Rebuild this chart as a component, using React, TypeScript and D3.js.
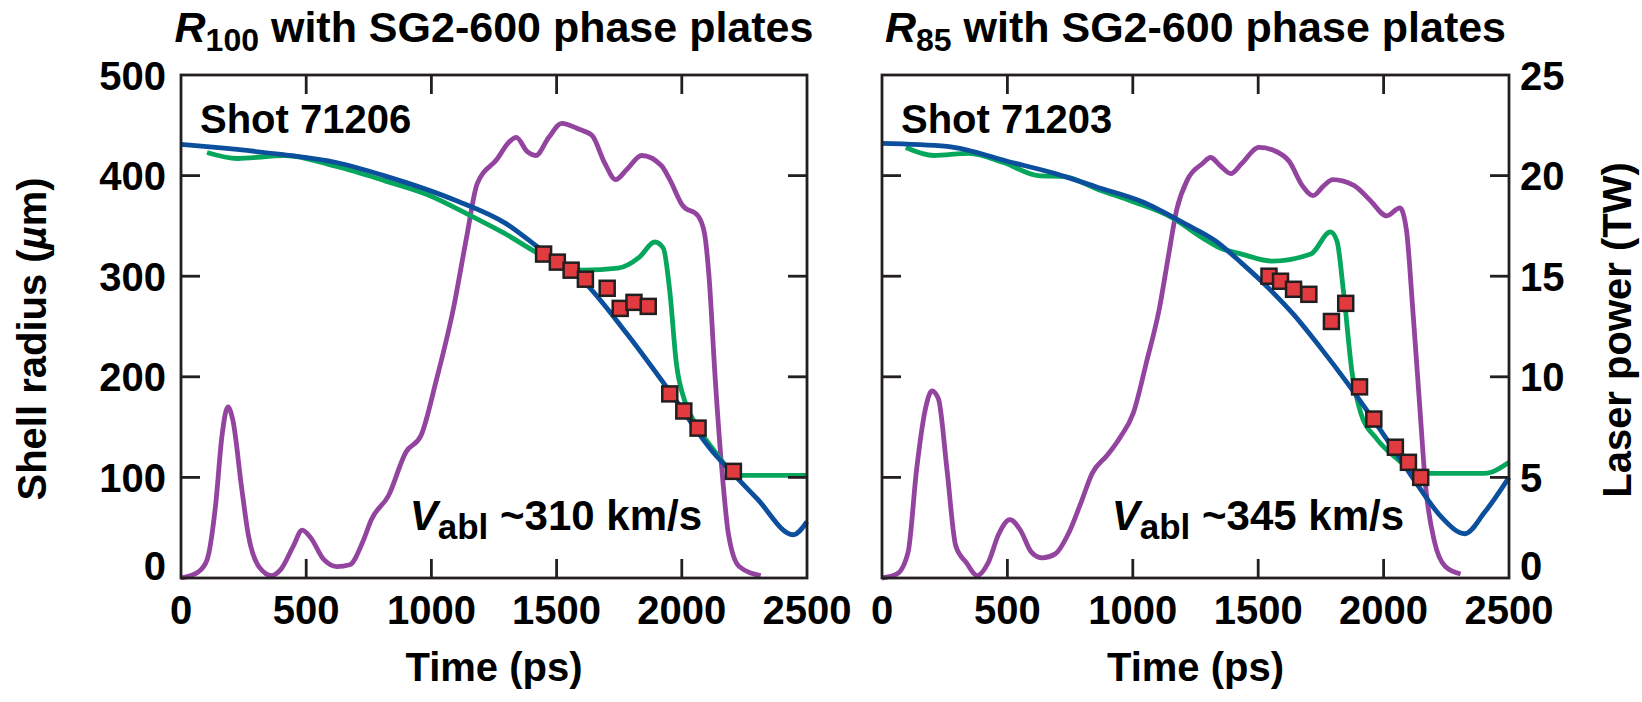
import React from 'react';
import * as d3 from 'd3';

const timeTicks = [0, 500, 1000, 1500, 2000, 2500];
const radiusTicks = [0, 100, 200, 300, 400, 500];
const powerTicks = [0, 5, 10, 15, 20, 25];

// shot 71206 (R100)
const blueA = [[0, 431], [138, 428], [400, 421], [620, 413], [810, 400], [1090, 376], [1300, 352], [1430, 328], [1600, 297], [1780, 243], [1950, 186], [2125, 125], [2200, 105], [2300, 79], [2445, 43], [2500, 56]];
const greenA = [[104, 423], [225, 417], [415, 420], [622, 409], [812, 395], [985, 381], [1158, 360], [1296, 342], [1417, 324], [1500, 313], [1607, 306], [1745, 308], [1831, 319], [1892, 334], [1926, 328], [1952, 285], [1978, 214], [2013, 175], [2056, 153], [2125, 128], [2194, 107], [2229, 102], [2500, 102]];
const laserA = [[0, 0], [69, 0.3], [104, 0.9], [138, 3.6], [164, 7.1], [187, 8.5], [207, 7.85], [242, 4.5], [268, 2.2], [311, 0.57], [363, 0.12], [397, 0.4], [449, 1.6], [484, 2.38], [518, 2.0], [570, 0.92], [622, 0.57], [674, 0.66], [726, 1.8], [760, 2.9], [829, 4.1], [898, 6.25], [959, 7.1], [1019, 9.8], [1088, 13.4], [1140, 16.9], [1183, 19.6], [1261, 20.8], [1313, 21.7], [1339, 21.9], [1382, 21.2], [1417, 21.0], [1469, 21.9], [1520, 22.6], [1590, 22.3], [1641, 22.0], [1693, 20.6], [1736, 19.8], [1780, 20.3], [1840, 21.0], [1918, 20.5], [1952, 19.8], [2004, 18.5], [2065, 18.0], [2091, 17.1], [2108, 15.1], [2134, 9.8], [2160, 5.4], [2186, 2.2], [2229, 0.57], [2315, 0.12]];
const pointsA = [[1448, 322], [1503, 314], [1558, 306], [1615, 297], [1702, 288], [1754, 268], [1809, 274], [1866, 270], [1952, 183], [2008, 166], [2065, 149], [2206, 106]];

// shot 71203 (R85)
const blueB = [[0, 432], [259, 429], [518, 413], [691, 402], [864, 388], [1037, 374], [1209, 352], [1330, 335], [1434, 313], [1538, 289], [1641, 262], [1745, 230], [1849, 196], [1952, 160], [2056, 122], [2142, 90], [2229, 61], [2324, 44], [2402, 65], [2500, 100]];
const greenB = [[95, 428], [207, 420], [346, 422], [484, 413], [622, 400], [726, 399], [864, 386], [1002, 374], [1158, 358], [1278, 338], [1348, 328], [1434, 322], [1555, 315], [1710, 322], [1788, 344], [1814, 335], [1840, 285], [1875, 203], [1909, 164], [1970, 139], [2056, 118], [2142, 104], [2402, 104], [2500, 115]];
const laserB = [[0, 0], [60, 0.2], [104, 1.28], [138, 5.4], [173, 8.4], [199, 9.3], [225, 8.9], [259, 5.4], [294, 1.6], [337, 0.75], [380, 0.12], [423, 0.75], [466, 2.2], [510, 2.9], [553, 2.35], [596, 1.28], [639, 1.0], [691, 1.2], [743, 2.2], [795, 3.8], [838, 5.2], [898, 6.1], [950, 7.0], [1002, 8.2], [1054, 10.7], [1106, 13.4], [1140, 15.85], [1175, 18.3], [1218, 19.8], [1278, 20.6], [1310, 20.9], [1348, 20.5], [1391, 20.1], [1434, 20.6], [1503, 21.4], [1572, 21.2], [1624, 20.7], [1676, 19.5], [1719, 19.0], [1762, 19.5], [1797, 19.8], [1883, 19.5], [1944, 18.8], [2013, 18.0], [2065, 18.4], [2091, 17.3], [2116, 13.4], [2142, 8.9], [2168, 4.5], [2203, 1.8], [2246, 0.57], [2307, 0.2]];
const pointsB = [[1543, 300], [1589, 295], [1641, 287], [1702, 282], [1792, 255], [1849, 273], [1904, 190], [1961, 158], [2047, 130], [2099, 115], [2148, 100]];

const FONT = '"Liberation Sans", Arial, Helvetica, sans-serif';
const INK = '#231f20';
const TOP = 75;
const BOTTOM = 578;
const TICK = 19;

type Pt = number[];

function Panel(props: {
  x0: number; x1: number; shot: string; sub: string; speed: string; title: string;
  blue: Pt[]; green: Pt[]; laser: Pt[]; pts: Pt[]; leftLabels: boolean; rightLabels: boolean;
}) {
  const x = d3.scaleLinear().domain([0, 2500]).range([props.x0, props.x1]);
  const yR = d3.scaleLinear().domain([0, 500]).range([BOTTOM, TOP]);
  const yP = d3.scaleLinear().domain([0, 25]).range([BOTTOM, TOP]);
  const lineR = d3.line<Pt>().x(d => x(d[0])).y(d => yR(d[1])).curve(d3.curveMonotoneX);
  const lineP = d3.line<Pt>().x(d => x(d[0])).y(d => yP(d[1])).curve(d3.curveMonotoneX);
  const mid = (props.x0 + props.x1) / 2;
  const sq = 15;
  // zero labels sit a little above the axis line
  const nudge = (v: number) => (v === 0 ? -13 : 0);
  return (
    <g>
      <text x={mid} y={42} textAnchor="middle" fontFamily={FONT} fontWeight="bold" fontSize={43} fill="#000">
        <tspan fontStyle="italic">R</tspan>
        <tspan fontSize={32} dy={9}>{props.sub}</tspan>
        <tspan dy={-9}>{' ' + props.title}</tspan>
      </text>
      <path d={lineP(props.laser) || ''} fill="none" stroke="#92449f" strokeWidth={4.8} />
      <path d={lineR(props.green) || ''} fill="none" stroke="#06a65c" strokeWidth={4.8} />
      <path d={lineR(props.blue) || ''} fill="none" stroke="#0b4f9d" strokeWidth={4.8} />
      {props.pts.map((d, i) => (
        <rect key={i} x={x(d[0]) - sq / 2} y={yR(d[1]) - sq / 2} width={sq} height={sq}
          fill="#e23b3f" stroke={INK} strokeWidth={2.5} />
      ))}
      <rect x={props.x0} y={TOP} width={props.x1 - props.x0} height={BOTTOM - TOP}
        fill="none" stroke={INK} strokeWidth={2.8} />
      {timeTicks.slice(1, -1).map(t => (
        <g key={'t' + t}>
          <line x1={x(t)} x2={x(t)} y1={TOP} y2={TOP + TICK} stroke={INK} strokeWidth={2.8} />
          <line x1={x(t)} x2={x(t)} y1={BOTTOM} y2={BOTTOM - TICK} stroke={INK} strokeWidth={2.8} />
        </g>
      ))}
      {radiusTicks.slice(1, -1).map(r => (
        <g key={'r' + r}>
          <line x1={props.x0} x2={props.x0 + TICK} y1={yR(r)} y2={yR(r)} stroke={INK} strokeWidth={2.8} />
          <line x1={props.x1} x2={props.x1 - TICK} y1={yR(r)} y2={yR(r)} stroke={INK} strokeWidth={2.8} />
        </g>
      ))}
      {timeTicks.map(t => (
        <text key={'tl' + t} x={x(t)} y={624} textAnchor="middle" fontFamily={FONT} fontWeight="bold" fontSize={40}>{t}</text>
      ))}
      {props.leftLabels && radiusTicks.map(r => (
        <text key={'rl' + r} x={166} y={yR(r) + 14.5 + nudge(r)} textAnchor="end" fontFamily={FONT} fontWeight="bold" fontSize={40}>{r}</text>
      ))}
      {props.rightLabels && powerTicks.map(p => (
        <text key={'pl' + p} x={1520} y={yP(p) + 14.5 + nudge(p)} textAnchor="start" fontFamily={FONT} fontWeight="bold" fontSize={40}>{p}</text>
      ))}
      <text x={props.x0 + 19} y={133} fontFamily={FONT} fontWeight="bold" fontSize={40}>{props.shot}</text>
      <text x={x(2500) - 105} y={530} textAnchor="end" fontFamily={FONT} fontWeight="bold" fontSize={42}>
        <tspan fontStyle="italic">V</tspan>
        <tspan fontSize={35} dy={9}>abl</tspan>
        <tspan dy={-9}>{' ~' + props.speed + ' km/s'}</tspan>
      </text>
      <text x={mid} y={681} textAnchor="middle" fontFamily={FONT} fontWeight="bold" fontSize={40}>Time (ps)</text>
    </g>
  );
}

export default function App() {
  return (
    <svg width={1642} height={702} style={{ position: 'absolute', left: 0, top: 0, background: '#fff' }}>
      <rect width={1642} height={702} fill="#fff" />
      <Panel x0={181} x1={807} shot="Shot 71206" sub="100" speed="310" title="with SG2-600 phase plates"
        blue={blueA} green={greenA} laser={laserA} pts={pointsA} leftLabels={true} rightLabels={false} />
      <Panel x0={882} x1={1509} shot="Shot 71203" sub="85" speed="345" title="with SG2-600 phase plates"
        blue={blueB} green={greenB} laser={laserB} pts={pointsB} leftLabels={false} rightLabels={true} />
      <text transform="translate(46,339) rotate(-90)" textAnchor="middle" fontFamily={FONT} fontWeight="bold" fontSize={40}>
        Shell radius (<tspan fontStyle="italic">µ</tspan>m)
      </text>
      <text transform="translate(1631,330) rotate(-90)" textAnchor="middle" fontFamily={FONT} fontWeight="bold" fontSize={40}>
        Laser power (TW)
      </text>
    </svg>
  );
}
